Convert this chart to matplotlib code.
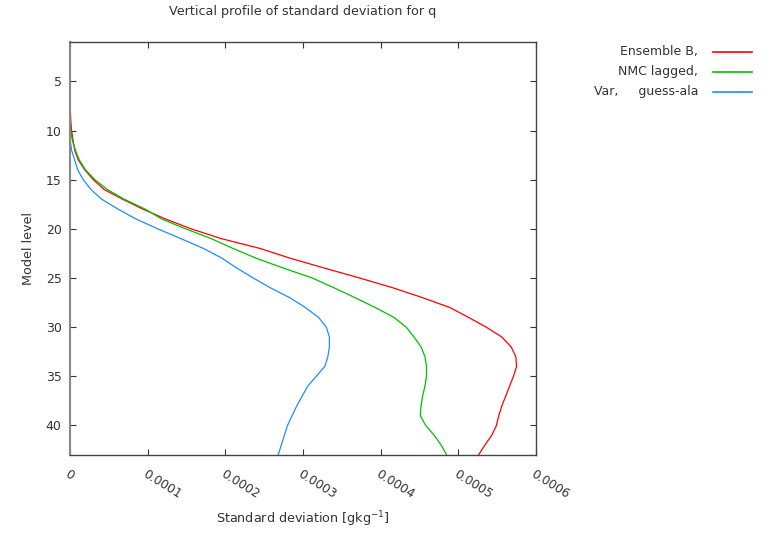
import matplotlib
matplotlib.use("Agg")
import matplotlib.pyplot as plt
from matplotlib.lines import Line2D
import numpy as np

levels = list(range(1, 44))
# standard deviation, units of 1e-4 g/kg, model levels 1..43
ens_b = [0, 0, 0, 0, 0, 0, 0, 0.005, 0.01, 0.02, 0.04, 0.06, 0.107, 0.19, 0.30,
         0.44, 0.68, 0.94, 1.23, 1.56, 1.95, 2.45, 2.84, 3.28, 3.73, 4.16, 4.54,
         4.89, 5.13, 5.36, 5.56, 5.68, 5.74, 5.75, 5.71, 5.66, 5.61, 5.56, 5.52,
         5.49, 5.43, 5.34, 5.26]
nmc = [0, 0, 0, 0, 0, 0, 0, 0, 0.003, 0.01, 0.03, 0.07, 0.12, 0.20, 0.32, 0.48,
       0.70, 0.97, 1.18, 1.49, 1.82, 2.10, 2.40, 2.75, 3.12, 3.40, 3.67, 3.93,
       4.17, 4.33, 4.43, 4.52, 4.57, 4.59, 4.59, 4.57, 4.54, 4.52, 4.51, 4.58,
       4.69, 4.78, 4.85]
var_ga = [0, 0, 0, 0, 0, 0, 0, 0, 0, 0, 0.003, 0.02, 0.06, 0.10, 0.17, 0.27,
          0.41, 0.62, 0.85, 1.13, 1.43, 1.72, 1.96, 2.15, 2.36, 2.58, 2.83, 3.03,
          3.20, 3.30, 3.34, 3.34, 3.32, 3.28, 3.17, 3.06, 2.99, 2.92, 2.86, 2.80,
          2.76, 2.72, 2.68]
labels = ["Ensemble B,", "NMC lagged,", "Var,     guess-ala"]
colors = ["#ff0000", "#00c000", "#1e8cff"]
xticks = [0, 0.0001, 0.0002, 0.0003, 0.0004, 0.0005, 0.0006]
xticklabels = ["0", "0.0001", "0.0002", "0.0003", "0.0004", "0.0005", "0.0006"]
yticks = [5, 10, 15, 20, 25, 30, 35, 40]

fs = 8.5
fig = plt.figure(figsize=(7.69, 5.33), dpi=100)
ax = fig.add_axes([70/769, 1-455/533, 466/769, 413/533])

for vals, c in zip([ens_b, nmc, var_ga], colors):
    ax.plot(np.array(vals)*1e-4, levels, color=c, linewidth=0.9)

ax.set_xlim(0, 0.0006)
ax.set_ylim(43, 1)
ax.set_xticks(xticks)
ax.set_xticklabels(xticklabels, rotation=-32, ha="left", va="top",
                   rotation_mode="anchor", fontsize=fs + 0.3, color="#333333")
ax.set_yticks(yticks)
ax.tick_params(axis="y", labelsize=fs + 0.5, labelcolor="#333333")
ax.tick_params(direction="in", length=4, width=0.8, color="#333333",
               top=True, right=True, pad=9)
ax.tick_params(axis="y", pad=6)
for s in ax.spines.values():
    s.set_color("#444444")
    s.set_linewidth(1.0)
ax.spines["left"].set_color("#888888")
ax.spines["left"].set_linewidth(1.5)

fig.text(303/769, 1 - 12/533, "Vertical profile of standard deviation for q",
         ha="center", va="center", fontsize=fs + 0.7, color="#333333")
fig.text(303/769, 1 - 519/533, "Standard deviation [gkg$^{-1}$]",
         ha="center", va="center", fontsize=fs + 0.7, color="#333333")
ax.set_ylabel("Model level", fontsize=fs + 0.7, color="#333333")
ax.yaxis.set_label_coords(-35/466, 0.5)

# legend, gnuplot style (text right, sample line after)
for i, (lab, c) in enumerate(zip(labels, colors)):
    y = 1 - (52 + 20*i)/533
    fig.text(698/769, y, lab, ha="right", va="center", fontsize=fs + 0.5,
             color="#333333")
    fig.add_artist(Line2D([713/769, 752/769], [y, y], color=c, linewidth=1.2))

fig.savefig("out.png", dpi=100)
